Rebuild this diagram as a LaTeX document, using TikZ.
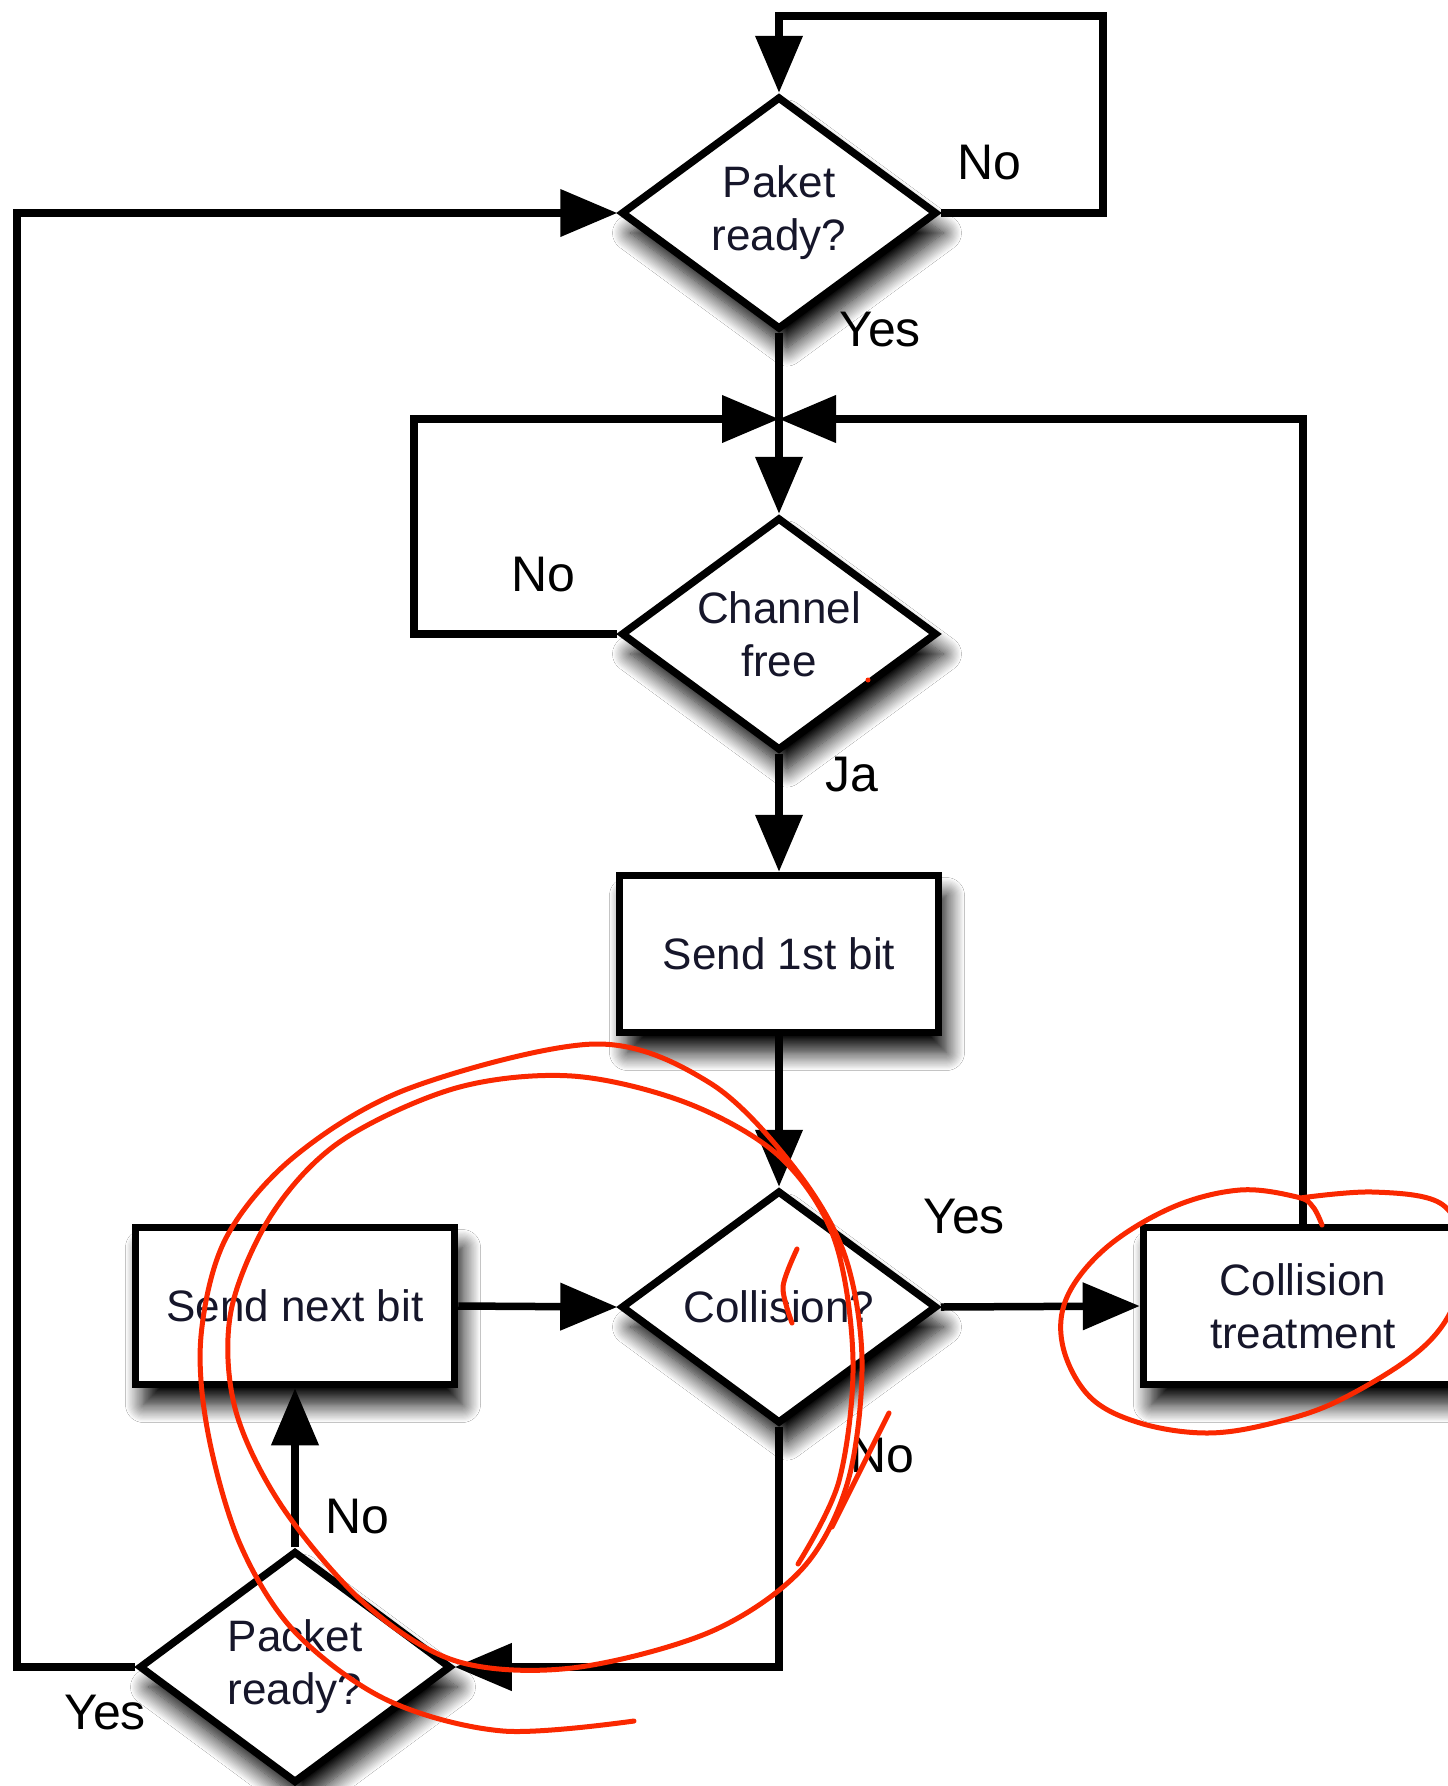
\documentclass[tikz,border=0pt]{standalone}
\usepackage{fontspec}
\setmainfont{Liberation Sans}
\usetikzlibrary{arrows.meta,shapes.geometric,shadows.blur}
\definecolor{inkred}{RGB}{250,40,0}
\definecolor{txt}{RGB}{22,22,42}
\tikzset{
  flow/.style={line width=7.5pt, -{Triangle[length=57pt,width=46pt]}},
  softshadow/.style={blur shadow={shadow xshift=8pt, shadow yshift=-20pt, shadow blur radius=18pt, shadow blur steps=16, shadow opacity=100}},
  dec/.style={diamond, aspect=1.356, draw, line width=7.5pt, fill=white, inner sep=0pt,
    minimum width=316pt, minimum height=233pt, align=center, text=txt,
    font=\fontsize{44}{53}\selectfont, softshadow},
  proc/.style={rectangle, draw, line width=7.5pt, fill=white, inner sep=0pt,
    minimum width=319pt, minimum height=157pt, align=center, text=txt,
    font=\fontsize{44}{53}\selectfont, softshadow},
  lbl/.style={inner sep=0pt, font=\fontsize{50}{60}\selectfont},
  redink/.style={draw=inkred, line width=5pt, line cap=round, line join=round}
}
\begin{document}
\begin{tikzpicture}[x=1pt,y=-1pt]
\useasboundingbox (0,0) rectangle (1448,1786);
\fill[white] (0,0) rectangle (1448,1786);
\clip (0,0) rectangle (1448,1786);

% nodes
\node[dec]  (d1) at (779,213)  {Paket\\ready?};
\node[dec]  (d2) at (779,634)  {Channel\\free};
\node[proc] (b1) at (779,954)  {Send 1st bit};
\node[dec]  (d3) at (779,1307) {Collision?};
\node[proc] (b2) at (295,1306) {Send next bit};
\node[proc] (b3) at (1303,1306) {Collision\\treatment};
\node[dec, minimum width=312pt, minimum height=232pt] (d4) at (295,1667) {Packet\\ready?};

% helper coordinates
\coordinate (j)   at (779,419);
\coordinate (t1)  at (1103,213);
\coordinate (t2)  at (1103,16);
\coordinate (t3)  at (779,16);
\coordinate (l1)  at (414,634);
\coordinate (l2)  at (414,419);
\coordinate (r1)  at (1303,419);
\coordinate (c1)  at (779,1667);
\coordinate (f1)  at (17,1667);
\coordinate (f2)  at (17,213);

% connectors
\draw[flow] (d1.east) -- (t1) -- (t2) -- (t3) -- (d1.north);
\draw[flow] (d1.south) -- (d2.north);
\draw[flow] (d2.west) -- (l1) -- (l2) -- (j);
\draw[flow] (b3.north) -- (r1) -- (j);
\draw[flow] (d2.south) -- (b1.north);
\draw[flow] (b1.south) -- (d3.north);
\draw[flow] (d3.east) -- (b3.west);
\draw[flow] (b2.east) -- (d3.west);
\draw[flow] (d3.south) -- (c1) -- (d4.east);
\draw[flow] (d4.north) -- (b2.south);
\draw[flow] (d4.west) -- (f1) -- (f2) -- (d1.west);

% labels
\node[lbl] (n1) at (989,163)  {No};
\node[lbl] (n2) at (880,330)  {Yes};
\node[lbl] (n3) at (543,575)  {No};
\node[lbl] (n4) at (852,775)  {Ja};
\node[lbl] (n5) at (964,1217) {Yes};
\node[lbl] (n6) at (882,1456) {No};
\node[lbl] (n7) at (357,1517) {No};
\node[lbl] (n8) at (105,1713) {Yes};

% red hand-drawn annotations
\draw[redink] plot[smooth, tension=0.55] coordinates {
 (634,1721) (503,1731) (387,1700) (295,1632) (240,1544) (208,1433) (201,1336)
 (226,1238) (295,1156) (410,1088) (595,1044) (710,1083) (793,1166) (844,1253)
 (862,1360) (848,1481) (802,1569) (710,1632) (572,1668) (456,1661) (364,1603)
 (281,1505) (235,1408) (231,1311) (272,1214) (341,1141) (456,1088) (572,1076)
 (687,1103) (779,1156) (834,1238) (853,1360) (839,1481) (798,1564)};
\draw[redink] (889,1413) -- (832,1527);
\draw[redink] plot[smooth] coordinates {(797,1249) (783,1287) (792,1323)};
\draw[redink] plot[smooth, tension=0.6] coordinates {
 (1300,1198) (1373,1192) (1440,1203) (1462,1245) (1456,1300) (1420,1350)
 (1340,1400) (1273,1423) (1207,1433) (1140,1423) (1090,1397) (1063,1347)
 (1067,1297) (1107,1247) (1173,1207) (1240,1190) (1297,1197) (1313,1207) (1322,1225)};
\fill[inkred] (868,680) circle (2.5pt);
\end{tikzpicture}
\end{document}
